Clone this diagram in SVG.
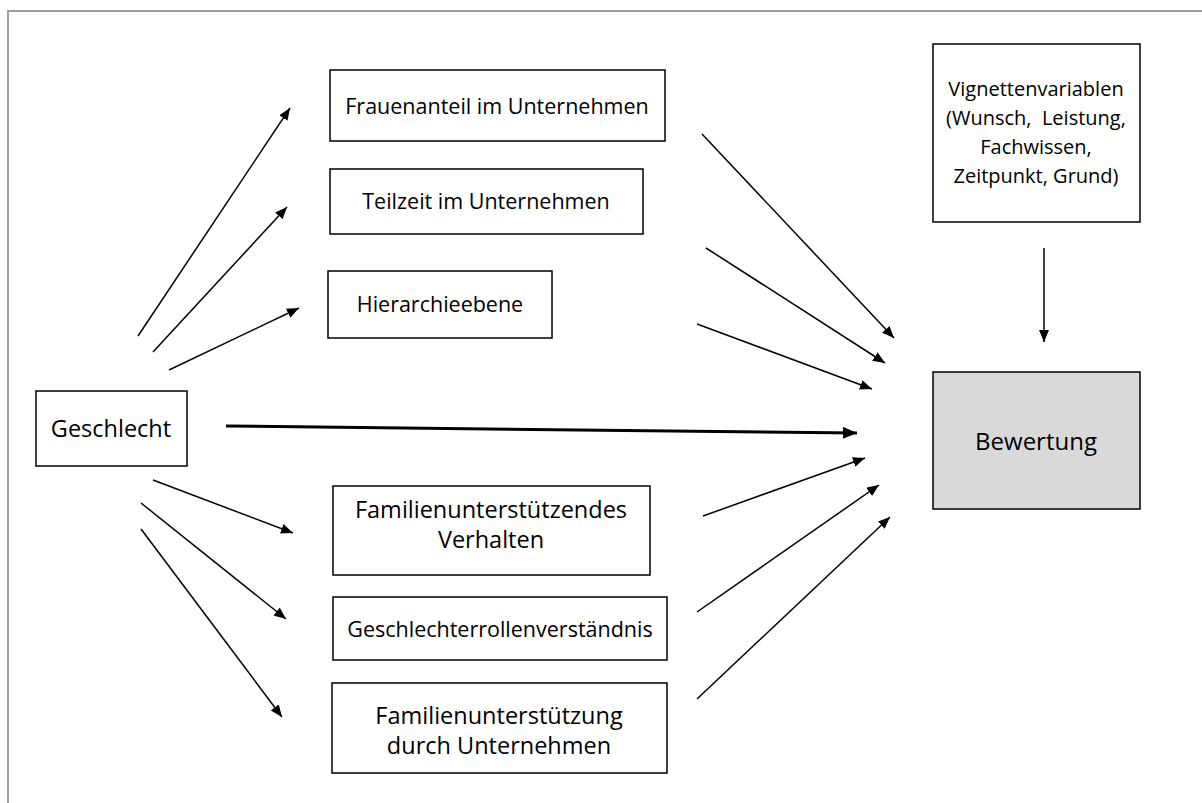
<svg xmlns="http://www.w3.org/2000/svg" width="1202" height="803" viewBox="0 0 1202 803">
<style>
.box{fill:#fff;stroke:#000;stroke-width:1.5}
.t{font-family:"Open Sans","Liberation Sans",sans-serif;font-size:21.5px;fill:#000;text-anchor:middle}
.l{font-size:23.5px}
.v{font-size:20px}
.c{stroke:#000;stroke-width:1.5;fill:none;marker-end:url(#ah)}
</style>
<defs>
<marker id="ah" markerUnits="userSpaceOnUse" markerWidth="14" markerHeight="12" refX="12" refY="5" orient="auto">
<path d="M0,0 L12,5 L0,10 Z" fill="#000"/>
</marker>
<marker id="ahb" markerUnits="userSpaceOnUse" markerWidth="16" markerHeight="14" refX="14" refY="6" orient="auto">
<path d="M0,0 L14,6 L0,12 Z" fill="#000"/>
</marker>
</defs>
<rect width="1202" height="803" fill="#fff"/>
<path d="M8,803 V11 H1202" fill="none" stroke="#a0a0a0" stroke-width="2"/>
<g id="n-frauenanteil"><rect class="box" x="330" y="70" width="335" height="71"/><text class="t" x="497" y="114">Frauenanteil im Unternehmen</text></g>
<g id="n-teilzeit"><rect class="box" x="330" y="169" width="313" height="65"/><text class="t" x="486" y="209">Teilzeit im Unternehmen</text></g>
<g id="n-hierarchie"><rect class="box" x="328" y="271" width="224" height="67"/><text class="t" x="440" y="312">Hierarchieebene</text></g>
<g id="n-geschlecht"><rect class="box" x="36" y="391" width="151" height="75"/><text class="t l" x="111" y="437">Geschlecht</text></g>
<g id="n-famverhalten"><rect class="box" x="333" y="486" width="317" height="89"/><text class="t l" x="491" y="518">Familienunterstützendes</text><text class="t l" x="491" y="548">Verhalten</text></g>
<g id="n-rollen"><rect class="box" x="333" y="597" width="334" height="63"/><text class="t" x="500" y="637">Geschlechterrollenverständnis</text></g>
<g id="n-famunternehmen"><rect class="box" x="332" y="683" width="335" height="90"/><text class="t l" x="499" y="724">Familienunterstützung</text><text class="t l" x="499" y="754">durch Unternehmen</text></g>
<g id="n-vignetten"><rect class="box" x="933" y="44" width="207" height="178"/><text class="t v" x="1036" y="96">Vignettenvariablen</text><text class="t v" x="1036" y="125" xml:space="preserve">(Wunsch,  Leistung,</text><text class="t v" x="1036" y="154">Fachwissen,</text><text class="t v" x="1036" y="183">Zeitpunkt, Grund)</text></g>
<g id="n-bewertung"><rect x="933" y="372" width="207" height="137" fill="#d9d9d9" stroke="#000" stroke-width="1.5"/><text class="t" x="1036" y="450" style="font-size:24px">Bewertung</text></g>
<g id="connectors">
<line class="c" x1="138" y1="336" x2="290" y2="108"/>
<line class="c" x1="153" y1="352" x2="287" y2="207"/>
<line class="c" x1="169" y1="370" x2="299" y2="308"/>
<line x1="226" y1="426" x2="857" y2="433" stroke="#000" stroke-width="3" marker-end="url(#ahb)"/>
<line class="c" x1="153" y1="480" x2="293" y2="533"/>
<line class="c" x1="141" y1="503" x2="286" y2="619"/>
<line class="c" x1="141" y1="529" x2="282" y2="717"/>
<line class="c" x1="702" y1="134" x2="894" y2="338"/>
<line class="c" x1="706" y1="248" x2="885" y2="363"/>
<line class="c" x1="697" y1="324" x2="872" y2="389"/>
<line class="c" x1="703" y1="516" x2="865" y2="458"/>
<line class="c" x1="697" y1="612" x2="879" y2="485"/>
<line class="c" x1="697" y1="699" x2="890" y2="517"/>
<line class="c" x1="1044" y1="248" x2="1044" y2="342"/>
</g>
</svg>
